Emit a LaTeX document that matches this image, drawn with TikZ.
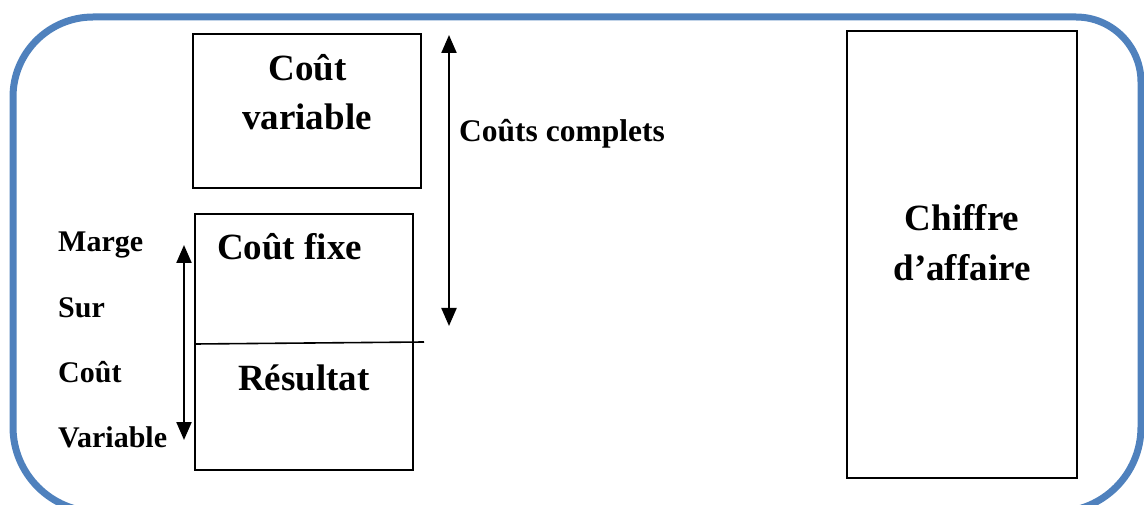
\documentclass[tikz,border=0pt]{standalone}
\usepackage{fontspec}
\setmainfont{Liberation Serif}
\usetikzlibrary{arrows.meta}
\definecolor{frameblue}{RGB}{79,129,189}
\tikzset{
  boxnode/.style={draw=black, line width=1.8pt, inner sep=0pt, minimum width=#1},
  bigtxt/.style={inner sep=0pt, font=\fontsize{37}{44}\selectfont\bfseries},
  midtxt/.style={inner sep=0pt, font=\fontsize{31.5}{37}\selectfont\bfseries},
  smalltxt/.style={inner sep=0pt, anchor=base west, font=\fontsize{30}{35}\selectfont\bfseries},
  dblarrow/.style={line width=2.2pt, {Triangle[width=15pt,length=18pt]}-{Triangle[width=15pt,length=18pt]}},
}
\begin{document}
\begin{tikzpicture}[x=1pt,y=1pt]
\useasboundingbox (0,0) rectangle (1144,-505);
% blue frame
\draw[frameblue, line width=7pt]
  (13,-427) -- (13,-97) arc[start angle=180, end angle=90, radius=80]
  -- (1076,-17) arc[start angle=90, end angle=0, radius=65]
  -- (1141,-427) arc[start angle=0, end angle=-90, radius=85]
  -- (98,-512) arc[start angle=270, end angle=180, radius=85] -- cycle;
% boxes
\node[boxnode=228pt, minimum height=154pt] (cv) at (307,-111) {};
\node[boxnode=218pt, minimum height=256pt] (cf) at (304,-342) {};
\node[boxnode=230pt, minimum height=447pt] (ca) at (962,-254.5) {};
% divider
\coordinate (dvl) at (195,-344);
\coordinate (dvr) at (424,-342);
\draw[line width=1.6pt] (dvl) -- (dvr);
% texts in boxes
\node[bigtxt, anchor=base] (t1) at (307.5,-81) {Coût};
\node[bigtxt, anchor=base] (t2) at (307,-130) {variable};
\node[bigtxt, anchor=base west] (t3) at (217,-260) {Coût fixe};
\node[bigtxt, anchor=base] (t4) at (304,-390) {Résultat};
\node[bigtxt, anchor=base] (t5) at (962,-231) {Chiffre};
\node[bigtxt, anchor=base] (t6) at (962,-280) {d’affaire};
% coûts complets
\coordinate (ct) at (449,-35);
\coordinate (cb) at (449,-326);
\draw[dblarrow] (ct) -- (cb);
\node[midtxt, anchor=base west] (cc) at (459,-142) {Coûts complets};
% left
\coordinate (lt) at (184,-245);
\coordinate (lb) at (184,-440);
\draw[dblarrow] (lt) -- (lb);
\node[smalltxt] (m1) at (58,-252) {Marge};
\node[smalltxt] (m2) at (58,-317) {Sur};
\node[smalltxt] (m3) at (58,-382) {Coût};
\node[smalltxt] (m4) at (58,-447) {Variable};
\end{tikzpicture}
\end{document}
